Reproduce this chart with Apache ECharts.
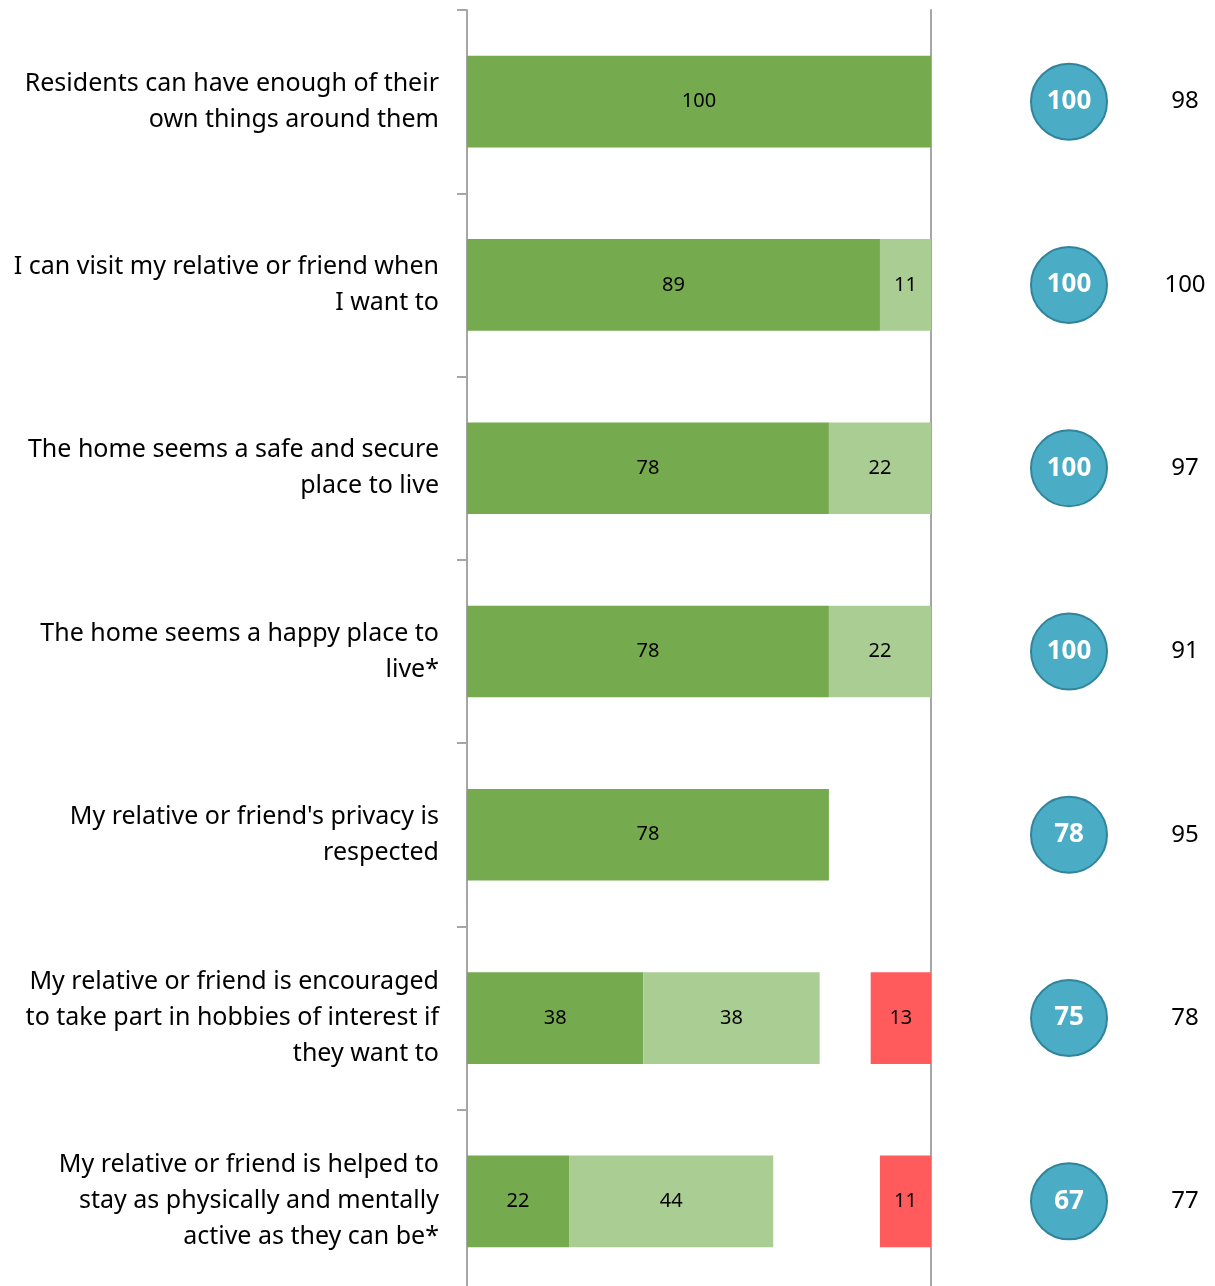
<!DOCTYPE html>
<html>
<head>
<meta charset="utf-8">
<script src="https://cdn.jsdelivr.net/npm/echarts@6/dist/echarts.min.js"></script>
<style>
  html, body { margin: 0; padding: 0; background: #fff; overflow: hidden; }
  #chart { width: 1215px; height: 1293px; }
</style>
</head>
<body>
<div id="chart"></div>
<script>
const categories = [
  'Residents can have enough of their\nown things around them',
  'I can visit my relative or friend when\nI want to',
  'The home seems a safe and secure\nplace to live',
  'The home seems a happy place to\nlive*',
  "My relative or friend's privacy is\nrespected",
  'My relative or friend is encouraged\nto take part in hobbies of interest if\nthey want to',
  'My relative or friend is helped to\nstay as physically and mentally\nactive as they can be*'
]
const stronglyAgree = [100, 89, 78, 78, 78, 38, 22]
const tendToAgree = [0, 11, 22, 22, 0, 38, 44]
const neither = [0, 0, 0, 0, 0, 11, 23]
const disagree = [0, 0, 0, 0, 0, 13, 11]
const homeScore = [100, 100, 100, 100, 78, 75, 67]
const benchmark = [98, 100, 97, 91, 95, 78, 77]

const FONT = 'Noto Sans'
const hideZero = p => (p.value ? p.value : '')

let myCharts = echarts.init(document.getElementById('chart'))

function barSeries(name, data, color, showLabel) {
  return {
    name: name,
    type: 'bar',
    stack: 'total',
    xAxisIndex: 0,
    yAxisIndex: 0,
    barWidth: '50%',
    data: data,
    itemStyle: { color: color },
    label: {
      show: showLabel,
      position: 'inside',
      color: '#000',
      fontFamily: FONT,
      fontSize: 20,
      formatter: hideZero
    }
  }
}

myCharts.setOption({
  animation: false,
  grid: [
    { left: 467, right: 284, top: 10, bottom: 0 },
    { left: 1069, right: 30, top: 10, bottom: 0 }
  ],
  xAxis: [
    { gridIndex: 0, type: 'value', min: 0, max: 100, show: false },
    { gridIndex: 1, type: 'category', boundaryGap: false, data: ['score', 'benchmark'], show: false }
  ],
  yAxis: [
    {
      gridIndex: 0,
      type: 'category',
      inverse: true,
      data: categories,
      axisLine: { show: true, lineStyle: { color: '#A6A6A6', width: 2 } },
      //刻度在分类边界
      axisTick: { show: true, length: 10, lineStyle: { color: '#A6A6A6', width: 2 } },
      axisLabel: {
        color: '#000',
        fontFamily: FONT,
        fontSize: 25,
        lineHeight: 36,
        margin: 28,
        align: 'right'
      },
      splitLine: { show: false }
    },
    {
      gridIndex: 0,
      type: 'category',
      inverse: true,
      position: 'right',
      data: categories,
      axisLine: { show: true, lineStyle: { color: '#A6A6A6', width: 2 } },
      axisTick: { show: false },
      axisLabel: { show: false }
    },
    {
      gridIndex: 1,
      type: 'category',
      inverse: true,
      data: categories,
      show: false
    }
  ],
  series: [
    barSeries('Strongly agree', stronglyAgree, '#75AA4F', true),
    barSeries('Tend to agree', tendToAgree, '#A9CD92', true),
    barSeries('Neither', neither, 'rgba(0,0,0,0)', false),
    barSeries('Disagree', disagree, '#FF5B5D', true),
    {
      name: 'Home score',
      type: 'scatter',
      xAxisIndex: 1,
      yAxisIndex: 2,
      symbolSize: 76,
      data: homeScore.map((v, i) => ({ value: ['score', i], score: v })),
      itemStyle: { color: '#4BACC6', borderColor: '#31849B', borderWidth: 2, opacity: 1 },
      label: {
        show: true,
        position: 'inside',
        color: '#fff',
        fontWeight: 'bold',
        fontFamily: FONT,
        fontSize: 26,
        formatter: p => p.data.score
      }
    },
    {
      name: 'Benchmark',
      type: 'scatter',
      xAxisIndex: 1,
      yAxisIndex: 2,
      symbolSize: 1,
      data: benchmark.map((v, i) => ({ value: ['benchmark', i], score: v })),
      itemStyle: { color: 'rgba(0,0,0,0)', opacity: 1 },
      label: {
        show: true,
        position: 'inside',
        color: '#000',
        fontFamily: FONT,
        fontSize: 24,
        formatter: p => p.data.score
      }
    }
  ]
})
</script>
</body>
</html>
